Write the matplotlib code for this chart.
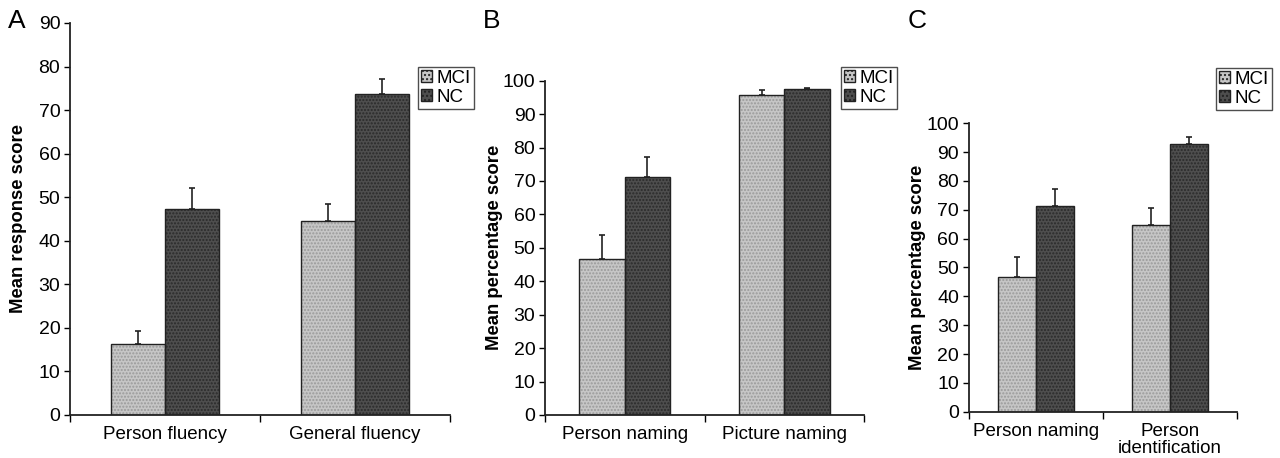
import numpy as np
import matplotlib.pyplot as plt

# panel A: verbal fluency
a_cats = ['Person fluency', 'General fluency']
a_mci = [16.4, 44.6]
a_mci_err = [2.8, 3.8]
a_nc = [47.3, 73.7]
a_nc_err = [4.9, 3.4]

# panel B: naming
b_cats = ['Person naming', 'Picture naming']
b_mci = [46.7, 95.7]
b_mci_err = [7.0, 1.5]
b_nc = [71.2, 97.4]
b_nc_err = [6.1, 0.5]

# panel C: naming vs identification
c_cats = ['Person naming', 'Person\nidentification']
c_mci = [46.6, 64.7]
c_mci_err = [6.9, 6.0]
c_nc = [71.3, 92.7]
c_nc_err = [5.9, 2.4]

MCI_COLOR = '#c6c6c6'
NC_COLOR = '#4e4e4e'
W = 0.285

plt.rcParams['font.family'] = ['Liberation Sans', 'DejaVu Sans']

fig = plt.figure(figsize=(12.8, 4.58), dpi=100)


def draw_bar(ax, x, h, color, hatch_color):
    # hatched fill, then black outline on top
    ax.bar(x, h, W, color=color, edgecolor=hatch_color, hatch='.....', linewidth=0, zorder=2)
    ax.bar(x, h, W, facecolor='none', edgecolor='#222222', linewidth=1.0, zorder=3)


def panel(rect, cats, mci, mci_err, nc, nc_err, ymax, ylabel, letter, letter_xy, legend_xy, ylabel_x):
    ax = fig.add_axes(rect)
    x = np.arange(len(cats))
    draw_bar(ax, x - W / 2, mci, MCI_COLOR, '#9a9a9a')
    draw_bar(ax, x + W / 2, nc, NC_COLOR, '#2a2a2a')
    ax.errorbar(x - W / 2, mci, yerr=[np.zeros(len(mci)), mci_err], fmt='none',
                ecolor='#222222', elinewidth=1.2, capsize=2.5, capthick=1.2, zorder=4)
    ax.errorbar(x + W / 2, nc, yerr=[np.zeros(len(nc)), nc_err], fmt='none',
                ecolor='#222222', elinewidth=1.2, capsize=2.5, capthick=1.2, zorder=4)
    ax.set_xlim(-0.5, len(cats) - 0.5)
    ax.set_ylim(0, ymax)
    ax.set_yticks(np.arange(0, ymax + 1, 10))
    ax.set_xticks(np.arange(-0.5, len(cats), 1.0))
    ax.set_xticklabels([])
    ax.set_xticks(x, minor=True)
    ax.set_xticklabels(cats, minor=True, fontsize=13.5, linespacing=1.0)
    ax.tick_params(axis='x', which='minor', length=0, pad=8)
    ax.tick_params(axis='x', which='major', length=5, width=1, direction='out')
    ax.tick_params(axis='y', length=4, width=1, direction='out', labelsize=14, pad=3)
    for s in ['top', 'right']:
        ax.spines[s].set_visible(False)
    for s in ['left', 'bottom']:
        ax.spines[s].set_linewidth(1.3)
        ax.spines[s].set_color('#222222')
    fig.text(ylabel_x, rect[1] + rect[3] / 2, ylabel, rotation=90, ha='center', va='center',
             fontsize=13.3, fontweight='bold')
    fig.text(letter_xy[0], letter_xy[1], letter, fontsize=19, ha='left', va='center')
    h1 = plt.Rectangle((0, 0), 1, 1, facecolor=MCI_COLOR, edgecolor='#222222', hatch='....')
    h2 = plt.Rectangle((0, 0), 1, 1, facecolor=NC_COLOR, edgecolor='#222222', hatch='....')
    leg = fig.legend([h1, h2], ['MCI', 'NC'], loc='upper left', bbox_to_anchor=legend_xy,
                     fontsize=13.5, frameon=True, fancybox=False, edgecolor='#222222',
                     handlelength=0.6, handleheight=0.6, handletextpad=0.25,
                     borderpad=0.15, labelspacing=0.1, borderaxespad=0)
    leg.get_frame().set_linewidth(1.0)
    return ax


panel([0.0547, 0.0939, 0.2969, 0.8559], a_cats, a_mci, a_mci_err, a_nc, a_nc_err, 90,
      'Mean response score', 'A', (0.006, 0.955), (0.3266, 1 - 67 / 458), 0.0148)
panel([0.4258, 0.0939, 0.2492, 0.7299], b_cats, b_mci, b_mci_err, b_nc, b_nc_err, 100,
      'Mean percentage score', 'B', (0.377, 0.955), (0.657, 1 - 67 / 458), 0.386)
panel([0.757, 0.1011, 0.2091, 0.6297], c_cats, c_mci, c_mci_err, c_nc, c_nc_err, 100,
      'Mean percentage score', 'C', (0.709, 0.955), (0.950, 1 - 68 / 458), 0.717)

fig.savefig('out.png', dpi=100)
